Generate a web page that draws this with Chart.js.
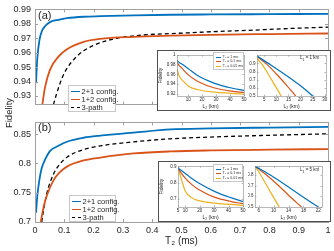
<!DOCTYPE html>
<html>
<head>
<meta charset="utf-8">
<script src="https://cdn.jsdelivr.net/npm/chart.js@4.4.1/dist/chart.umd.min.js"></script>
<style>
  body { margin: 0; width: 334px; height: 251px; position: relative; overflow: hidden; background: #fff;
         font-family: "Liberation Sans", Arial, sans-serif; color: #262626; }
  canvas, .box, .txt, .leg { position: absolute; }
  .box { background: #fff; border: 1.5px solid #505050; box-sizing: border-box; }
  .leg { background: #fff; border: 1px solid #c8c8c8; box-sizing: border-box; }
  .txt { white-space: nowrap; line-height: 1; }
  .row { position: absolute; white-space: nowrap; line-height: 1; }
  .smp { position: absolute; }
</style>
</head>
<body>
<canvas id="mainA"></canvas>
<canvas id="mainB"></canvas>
<div class="box" style="left:157px;top:50px;width:174px;height:61px"></div>
<div class="box" style="left:158px;top:161px;width:173px;height:61px"></div>
<canvas id="ia1"></canvas>
<canvas id="ia2"></canvas>
<canvas id="ib1"></canvas>
<canvas id="ib2"></canvas>
<div class="txt" style="left:38px;top:10px;font-size:11px">(a)</div>
<div class="txt" style="left:38px;top:122px;font-size:11px">(b)</div>
<div class="txt" style="left:9px;top:113px;font-size:9.5px;transform:translate(-50%,-50%) rotate(-90deg)">Fidelity</div>
<div class="txt" style="left:300px;top:56px;font-size:4.5px">L<sub style="font-size:3.5px">1</sub> = 1 km</div>
<div class="txt" style="left:300px;top:168px;font-size:4.5px">L<sub style="font-size:3.5px">1</sub> = 5 km</div>
<script>
// ---- main plot data ----
const t2Ticks = [0, 0.1, 0.2, 0.3, 0.4, 0.5, 0.6, 0.7, 0.8, 0.9, 1];
const fidTicksA = [0.93, 0.94, 0.95, 0.96, 0.97, 0.98, 0.99];
const fidTicksB = [0.7, 0.75, 0.8, 0.85];
const seriesNames = ['2+1 config.', '1+2 config.', '3-path'];

// panel (a)
const aT2_21 = [0.0034, 0.008, 0.015, 0.023, 0.034, 0.051, 0.08, 0.109, 0.166, 0.223, 0.337, 0.463, 0.6, 0.8, 1.0];
const aF_21  = [0.9389, 0.9563, 0.9685, 0.9747, 0.9783, 0.9812, 0.9828, 0.9839, 0.9849, 0.9853, 0.9859, 0.9863, 0.9865, 0.9867, 0.9869];
const aT2_12 = [0.025, 0.034, 0.051, 0.08, 0.109, 0.166, 0.223, 0.337, 0.463, 0.6, 0.8, 1.0];
const aF_12  = [0.924, 0.9358, 0.9481, 0.9573, 0.9624, 0.9675, 0.9696, 0.971, 0.9718, 0.9724, 0.9729, 0.9733];
const aT2_3p = [0.063, 0.074, 0.0915, 0.109, 0.137, 0.166, 0.223, 0.28, 0.337, 0.394, 0.463, 0.6, 0.731, 0.85, 1.0];
const aF_3p  = [0.924, 0.9317, 0.942, 0.9491, 0.9563, 0.9613, 0.9669, 0.97, 0.9716, 0.9726, 0.9732, 0.9745, 0.9755, 0.9766, 0.9777];

// panel (b)
const bT2_21 = [0.0034, 0.008, 0.015, 0.023, 0.034, 0.051, 0.08, 0.109, 0.166, 0.223, 0.337, 0.463, 0.6, 0.8, 1.0];
const bF_21  = [0.7158, 0.745, 0.772, 0.792, 0.806, 0.821, 0.830, 0.837, 0.8438, 0.8474, 0.8526, 0.858, 0.8597, 0.8612, 0.8625];
const bT2_12 = [0.0195, 0.03, 0.04, 0.063, 0.085, 0.109, 0.166, 0.223, 0.337, 0.463, 0.6, 0.8, 1.0];
const bF_12  = [0.7, 0.727, 0.7445, 0.771, 0.785, 0.7945, 0.805, 0.81, 0.817, 0.8205, 0.8222, 0.8235, 0.8245];
const bT2_3p = [0.023, 0.03, 0.04, 0.063, 0.085, 0.109, 0.166, 0.223, 0.337, 0.463, 0.6, 0.8, 1.0];
const bF_3p  = [0.7, 0.722, 0.748, 0.7817, 0.799, 0.8106, 0.8237, 0.83, 0.8368, 0.842, 0.845, 0.848, 0.8505];

// ---- inset data ----
const insetNames = ['T₂ = 1 ms', 'T₂ = 0.1 ms', 'T₂ = 0.01 ms'];

// inset (a) left, L1 = 1 km
const ia1L2 = [2, 3.5, 5.8, 10.5, 17.3, 29, 41, 50];
const ia1F1   = [0.989, 0.985, 0.981, 0.971, 0.9565, 0.9414, 0.9316, 0.9265];
const ia1F01  = [0.9853, 0.979, 0.972, 0.958, 0.9447, 0.9316, 0.925, 0.9225];
const ia1F001 = [0.971, 0.957, 0.948, 0.935, 0.928, 0.923, 0.9206, 0.9186];
const ia1XTicks = [10, 20, 30, 40, 50];
const ia1YTicks = [0.92, 0.94, 0.96, 0.98, 1];

// inset (a) right, L1 = 1 km
const ia2L2_1   = [2, 8, 14, 20, 25];
const ia2F_1    = [0.99, 0.875, 0.755, 0.625, 0.5];
const ia2L2_01  = [2, 6, 10, 14, 18];
const ia2F_01   = [0.985, 0.89, 0.77, 0.64, 0.5];
const ia2L2_001 = [2, 4, 6, 8, 10, 12];
const ia2F_001  = [0.96, 0.89, 0.8, 0.7, 0.6, 0.5];
const ia2XTicks = [5, 10, 15, 20, 25, 30];
const ia2YTicks = [0.5, 0.6, 0.7, 0.8, 0.9];

// inset (b) left, L1 = 5 km
const ib1L2 = [5, 7.8, 10, 14.6, 19.3, 30.6, 42, 50];
const ib1F1   = [0.894, 0.875, 0.86, 0.828, 0.80, 0.746, 0.707, 0.6845];
const ib1F01  = [0.894, 0.855, 0.83, 0.79, 0.76, 0.71, 0.684, 0.671];
const ib1F001 = [0.894, 0.81, 0.75, 0.707, 0.69, 0.674, 0.666, 0.66];
const ib1XTicks = [5, 10, 20, 30, 40, 50];
const ib1YTicks = [0.7, 0.8, 0.9];

// inset (b) right, L1 = 5 km
const ib2L2_1   = [5, 9, 13, 17, 22];
const ib2F_1    = [0.88, 0.8, 0.71, 0.615, 0.5];
const ib2L2_01  = [5, 8, 11, 14, 17.5];
const ib2F_01   = [0.88, 0.8, 0.71, 0.61, 0.5];
const ib2L2_001 = [5, 6.5, 8, 10, 11.5];
const ib2F_001  = [0.88, 0.8, 0.71, 0.59, 0.5];
const ib2XTicks = [6, 10, 14, 18, 22];
const ib2YTicks = [0.5, 0.6, 0.7, 0.8];

const blue = '#0072BD', orange = '#D95319', yellow = '#EDB120';

function pts(xs, ys) {
  return xs.map((x, i) => ({ x: x, y: ys[i] }));
}

// box around the plot with inward ticks, matlab style
const boxTicks = {
  id: 'boxTicks',
  afterDraw(chart, args, opts) {
    const ctx = chart.ctx, a = chart.chartArea;
    const sx = chart.scales.x, sy = chart.scales.y;
    const len = opts.len;
    ctx.save();
    ctx.strokeStyle = opts.color;
    ctx.lineWidth = opts.width;
    ctx.beginPath();
    sx.ticks.forEach(t => {
      const p = Math.round(sx.getPixelForValue(t.value)) + 0.5;
      ctx.moveTo(p, a.bottom); ctx.lineTo(p, a.bottom - len);
      ctx.moveTo(p, a.top); ctx.lineTo(p, a.top + len);
    });
    sy.ticks.forEach(t => {
      const p = Math.round(sy.getPixelForValue(t.value)) + 0.5;
      ctx.moveTo(a.left, p); ctx.lineTo(a.left + len, p);
      ctx.moveTo(a.right, p); ctx.lineTo(a.right - len, p);
    });
    ctx.stroke();
    ctx.strokeRect(Math.round(a.left) + 0.5, Math.round(a.top) + 0.5,
                   Math.round(a.right - a.left), Math.round(a.bottom - a.top));
    ctx.restore();
  }
};

// frame = [left, top, width, height] of canvas, area = [x0, y0, x1, y1] of plot area (page px)
function makeChart(id, frame, area, o) {
  const c = document.getElementById(id);
  c.width = frame[2]; c.height = frame[3];
  c.style.left = frame[0] + 'px'; c.style.top = frame[1] + 'px';
  const yW = area[0] - frame[0];
  const xH = frame[1] + frame[3] - area[3];
  const font = { family: '"Liberation Sans", Arial, sans-serif', size: o.fs };
  return new Chart(c, {
    type: 'line',
    data: { datasets: o.datasets },
    plugins: [boxTicks],
    options: {
      responsive: false,
      animation: false,
      events: [],
      layout: { padding: { top: area[1] - frame[1], right: frame[0] + frame[2] - area[2], left: 0, bottom: 0 } },
      plugins: {
        legend: { display: false },
        tooltip: { enabled: false },
        boxTicks: { len: o.tick, color: o.axisColor, width: o.axisW }
      },
      elements: {
        point: { radius: 0 },
        line: { cubicInterpolationMode: 'monotone', borderWidth: o.lw }
      },
      scales: {
        x: {
          type: 'linear', min: o.xr[0], max: o.xr[1],
          afterBuildTicks: s => { s.ticks = o.xt.map(v => ({ value: v })); },
          afterFit: s => { s.height = xH; },
          grid: { display: false, drawTicks: false },
          border: { display: false },
          ticks: { display: o.xLabels !== false, color: '#262626', font: font, padding: o.xpad, maxRotation: 0,
                   autoSkip: false, callback: v => String(v) },
          title: { display: !!o.xTitle, text: o.xTitle, color: '#262626',
                   font: { family: font.family, size: o.tfs }, padding: { top: 0, bottom: o.xtpad } }
        },
        y: {
          type: 'linear', min: o.yr[0], max: o.yr[1],
          afterBuildTicks: s => { s.ticks = o.yt.map(v => ({ value: v })); },
          afterFit: s => { s.width = yW; },
          grid: { display: false, drawTicks: false },
          border: { display: false },
          ticks: { color: '#262626', font: font, padding: o.ypad, autoSkip: false, callback: v => String(v) },
          title: { display: !!o.yTitle, text: o.yTitle, color: '#262626',
                   font: { family: font.family, size: o.tfs }, padding: { top: 0, bottom: 0 } }
        }
      }
    }
  });
}

function mainSets(x21, f21, x12, f12, x3, f3) {
  return [
    { label: seriesNames[0], data: pts(x21, f21), borderColor: blue, borderWidth: 1.8 },
    { label: seriesNames[1], data: pts(x12, f12), borderColor: orange, borderWidth: 1.8 },
    { label: seriesNames[2], data: pts(x3, f3), borderColor: '#000', borderWidth: 1.3, borderDash: [4, 3] }
  ];
}

function insetSets(x1, f1, x2, f2, x3, f3) {
  return [
    { label: insetNames[0], data: pts(x1, f1), borderColor: blue },
    { label: insetNames[1], data: pts(x2, f2), borderColor: orange },
    { label: insetNames[2], data: pts(x3, f3), borderColor: yellow }
  ];
}

const mainOpts = { fs: 9, tfs: 10, tick: 3, axisColor: '#a0a0a0', axisW: 1, lw: 1.8, xpad: 3, ypad: 4, xtpad: 2 };

makeChart('mainA', [0, 0, 334, 114], [35, 5, 328, 113], Object.assign({}, mainOpts, {
  datasets: mainSets(aT2_21, aF_21, aT2_12, aF_12, aT2_3p, aF_3p),
  xr: [0, 1], yr: [0.924, 0.99], xt: t2Ticks, yt: fidTicksA, xLabels: false
}));

makeChart('mainB', [0, 113, 334, 136], [35, 113, 328, 222], Object.assign({}, mainOpts, {
  datasets: mainSets(bT2_21, bF_21, bT2_12, bF_12, bT2_3p, bF_3p),
  xr: [0, 1], yr: [0.7, 0.87], xt: t2Ticks, yt: fidTicksB, xTitle: 'T₂ (ms)'
}));

const insetOpts = { fs: 4.5, tfs: 5, tick: 1.5, axisColor: '#8a8a8a', axisW: 0.6, lw: 1.2, xpad: 1.5, ypad: 1.5, xtpad: 0.5 };

makeChart('ia1', [158, 51, 90, 59], [177, 52, 244, 96], Object.assign({}, insetOpts, {
  datasets: insetSets(ia1L2, ia1F1, ia1L2, ia1F01, ia1L2, ia1F001),
  xr: [2, 50], yr: [0.915, 1], xt: ia1XTicks, yt: ia1YTicks, xTitle: 'L₂ (km)', yTitle: 'Fidelity'
}));

makeChart('ia2', [248, 51, 82, 59], [257, 53, 326, 96], Object.assign({}, insetOpts, {
  datasets: insetSets(ia2L2_1, ia2F_1, ia2L2_01, ia2F_01, ia2L2_001, ia2F_001),
  xr: [2, 30.5], yr: [0.5, 1], xt: ia2XTicks, yt: ia2YTicks, xTitle: 'L₂ (km)'
}));

makeChart('ib1', [159, 162, 89, 59], [178, 164, 243, 207], Object.assign({}, insetOpts, {
  datasets: insetSets(ib1L2, ib1F1, ib1L2, ib1F01, ib1L2, ib1F001),
  xr: [5, 50], yr: [0.65, 0.905], xt: ib1XTicks, yt: ib1YTicks, xTitle: 'L₂ (km)', yTitle: 'Fidelity'
}));

makeChart('ib2', [248, 162, 82, 59], [255, 164, 322, 207], Object.assign({}, insetOpts, {
  datasets: insetSets(ib2L2_1, ib2F_1, ib2L2_01, ib2F_01, ib2L2_001, ib2F_001),
  xr: [5, 23], yr: [0.5, 0.88], xt: ib2XTicks, yt: ib2YTicks, xTitle: 'L₂ (km)'
}));

// legends
function legend(left, top, w, h, names, colors, dashed, fs, rowH, sampW, lw) {
  const d = document.createElement('div');
  d.className = 'leg';
  d.style.cssText = `left:${left}px;top:${top}px;width:${w}px;height:${h}px`;
  names.forEach((n, i) => {
    const cy = 2 + rowH * (i + 0.5);
    const s = document.createElement('div');
    s.className = 'smp';
    s.style.cssText = `left:2px;top:${cy - lw / 2}px;width:${sampW}px;border-top:${lw}px ${dashed[i] ? 'dashed' : 'solid'} ${colors[i]}`;
    d.appendChild(s);
    const r = document.createElement('div');
    r.className = 'row';
    r.style.cssText = `left:${sampW + 3.5}px;top:${cy - fs * 0.5}px;font-size:${fs}px`;
    r.textContent = n;
    d.appendChild(r);
  });
  document.body.appendChild(d);
}

legend(68, 85, 48, 27, seriesNames, [blue, orange, '#000'], [false, false, true], 7.5, 7.8, 9, 1.8);
legend(69, 195, 47, 27, seriesNames, [blue, orange, '#000'], [false, false, true], 7.5, 7.8, 9, 1.8);
legend(213, 52, 31, 18, insetNames, [blue, orange, yellow], [false, false, false], 3.6, 4.6, 5, 1);
legend(213, 164, 30, 18, insetNames, [blue, orange, yellow], [false, false, false], 3.6, 4.6, 5, 1);
</script>
</body>
</html>
